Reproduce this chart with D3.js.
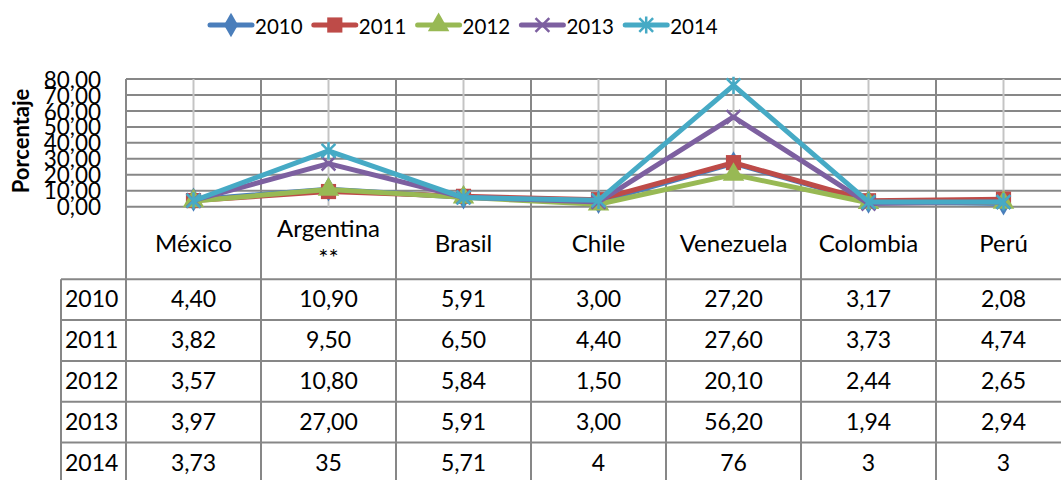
<!DOCTYPE html>
<html>
<head>
<meta charset="utf-8">
<script src="https://cdn.jsdelivr.net/npm/d3@7"></script>
<style>
  body { margin: 0; background: #fff; }
  svg { display: block; font-family: Lato, "Open Sans", sans-serif; }
</style>
</head>
<body>
<svg width="1061" height="480"></svg>
<script>
const categories = ["México", "Argentina **", "Brasil", "Chile", "Venezuela", "Colombia", "Perú"];
const years = ["2010", "2011", "2012", "2013", "2014"];
const v2010 = [4.40, 10.90, 5.91, 3.00, 27.20, 3.17, 2.08];
const v2011 = [3.82, 9.50, 6.50, 4.40, 27.60, 3.73, 4.74];
const v2012 = [3.57, 10.80, 5.84, 1.50, 20.10, 2.44, 2.65];
const v2013 = [3.97, 27.00, 5.91, 3.00, 56.20, 1.94, 2.94];
const v2014 = [3.73, 35, 5.71, 4, 76, 3, 3];
const yTicks = [0, 10, 20, 30, 40, 50, 60, 70, 80];
const tableFormat = ["fixed", "fixed", "fixed", "fixed", "general"];

const seriesValues = [v2010, v2011, v2012, v2013, v2014];
const colors = ["#4a7ebb", "#be4b48", "#98b954", "#7d60a0", "#46aac5"];

// custom markers (x and star)
const xMark = { draw(ctx, size) { const r = Math.sqrt(size) / 2;
  ctx.moveTo(-r, -r); ctx.lineTo(r, r); ctx.moveTo(-r, r); ctx.lineTo(r, -r); } };
const starMark = { draw(ctx, size) { const r = Math.sqrt(size) / 2;
  ctx.moveTo(-r, -r); ctx.lineTo(r, r); ctx.moveTo(-r, r); ctx.lineTo(r, -r);
  ctx.moveTo(0, -r * 1.25); ctx.lineTo(0, r * 1.25); } };
const markers = [
  { type: d3.symbolDiamond, size: 170, filled: true },
  { type: d3.symbolSquare, size: 230, filled: true },
  { type: d3.symbolTriangle, size: 200, filled: true },
  { type: xMark, size: 190, filled: false },
  { type: starMark, size: 190, filled: false }
];

const svg = d3.select("svg");

const x = d3.scaleBand().domain(categories).range([126, 1071]);
const y = d3.scaleLinear().domain([0, 80]).range([206.7, 79]);
const rowH = 40.8;
const headerBottom = 279.3;

const gridColor = "#878787";

// horizontal gridlines
svg.append("g").selectAll("line").data(yTicks).join("line")
  .attr("x1", x.range()[0]).attr("x2", x.range()[1])
  .attr("y1", d => y(d)).attr("y2", d => y(d))
  .attr("stroke", gridColor).attr("stroke-width", 2);

// light centre lines
svg.append("g").selectAll("line").data(categories).join("line")
  .attr("x1", d => x(d) + x.bandwidth() / 2).attr("x2", d => x(d) + x.bandwidth() / 2)
  .attr("y1", y(80)).attr("y2", y(0))
  .attr("stroke", "#c4c4c4").attr("stroke-width", 2);

// category boundaries (go down through the table)
const bounds = categories.map(c => x(c)).concat([x.range()[1]]);
svg.append("g").selectAll("line").data(bounds).join("line")
  .attr("x1", d => d).attr("x2", d => d)
  .attr("y1", y(80)).attr("y2", 490)
  .attr("stroke", gridColor).attr("stroke-width", 2);

// y axis labels
const yAxis = d3.axisLeft(y).tickValues(yTicks).tickSize(0).tickPadding(0)
  .tickFormat(d => d3.format(".2f")(d).replace(".", ","));
const ya = svg.append("g").attr("transform", "translate(101,0)").call(yAxis);
ya.select(".domain").remove();
ya.selectAll("text").attr("font-size", 22.5).attr("fill", "#000")
  .attr("font-family", "Lato, 'Open Sans', sans-serif").attr("dy", "0.36em");

svg.append("text")
  .attr("transform", `translate(29,141) rotate(-90)`)
  .attr("text-anchor", "middle").attr("font-size", 22).attr("font-weight", "bold")
  .text("Porcentaje");

// series lines and markers
const line = d3.line().x((d, i) => x(categories[i]) + x.bandwidth() / 2).y(d => y(d));
seriesValues.forEach((vals, s) => {
  const g = svg.append("g");
  g.append("path").datum(vals).attr("d", line)
    .attr("fill", "none").attr("stroke", colors[s]).attr("stroke-width", 5)
    .attr("stroke-linejoin", "round");
  const m = markers[s];
  g.selectAll("path.mk").data(vals).join("path").attr("class", "mk")
    .attr("transform", (d, i) => `translate(${x(categories[i]) + x.bandwidth() / 2},${y(d)})`)
    .attr("d", d3.symbol().type(m.type).size(m.size))
    .attr("fill", m.filled ? colors[s] : "none")
    .attr("stroke", colors[s]).attr("stroke-width", m.filled ? 0 : 2.5);
});

// legend
const legend = svg.append("g").selectAll("g").data(years).join("g")
  .attr("transform", (d, i) => `translate(${210 + i * 103.8},25)`);
legend.append("line").attr("x1", 0).attr("x2", 42)
  .attr("stroke", (d, i) => colors[i]).attr("stroke-width", 5).attr("stroke-linecap", "round");
legend.append("path").attr("transform", "translate(21,0)")
  .attr("d", (d, i) => d3.symbol().type(markers[i].type).size(markers[i].size)())
  .attr("fill", (d, i) => markers[i].filled ? colors[i] : "none")
  .attr("stroke", (d, i) => colors[i]).attr("stroke-width", (d, i) => markers[i].filled ? 0 : 2.5);
legend.append("text").attr("x", 45).attr("y", 8.5).attr("font-size", 20.5).text(d => d);

// table
const tbl = svg.append("g");
// header labels
tbl.selectAll("text.cat").data(categories).join("text").attr("class", "cat")
  .attr("x", d => x(d) + x.bandwidth() / 2).attr("text-anchor", "middle").attr("font-size", 24)
  .each(function (d) {
    const parts = d.split(" ");
    const t = d3.select(this);
    if (parts.length === 1) t.append("tspan").attr("y", 251.5).text(d);
    else parts.forEach((p, k) => t.append("tspan").attr("x", x(d) + x.bandwidth() / 2)
      .attr("y", 236.5 + k * 29).text(p));
  });

// row lines
const rowTops = years.map((yr, i) => headerBottom + i * rowH);
tbl.selectAll("line.row").data(rowTops).join("line").attr("class", "row")
  .attr("x1", 61).attr("x2", x.range()[1]).attr("y1", d => d).attr("y2", d => d)
  .attr("stroke", gridColor).attr("stroke-width", 2);
tbl.append("line").attr("x1", 61).attr("x2", 61).attr("y1", headerBottom).attr("y2", 490)
  .attr("stroke", gridColor).attr("stroke-width", 2);

const fmt = (v, s) => tableFormat[s] === "fixed" ? d3.format(".2f")(v).replace(".", ",")
  : String(v).replace(".", ",");
years.forEach((yr, s) => {
  const top = headerBottom + s * rowH;
  tbl.append("text").attr("x", 65).attr("y", top + 28).attr("font-size", 23).text(yr);
  tbl.selectAll(null).data(seriesValues[s]).join("text")
    .attr("x", (d, i) => x(categories[i]) + x.bandwidth() / 2).attr("y", top + 28)
    .attr("text-anchor", "middle").attr("font-size", 23)
    .text(d => fmt(d, s));
});
</script>
</body>
</html>
